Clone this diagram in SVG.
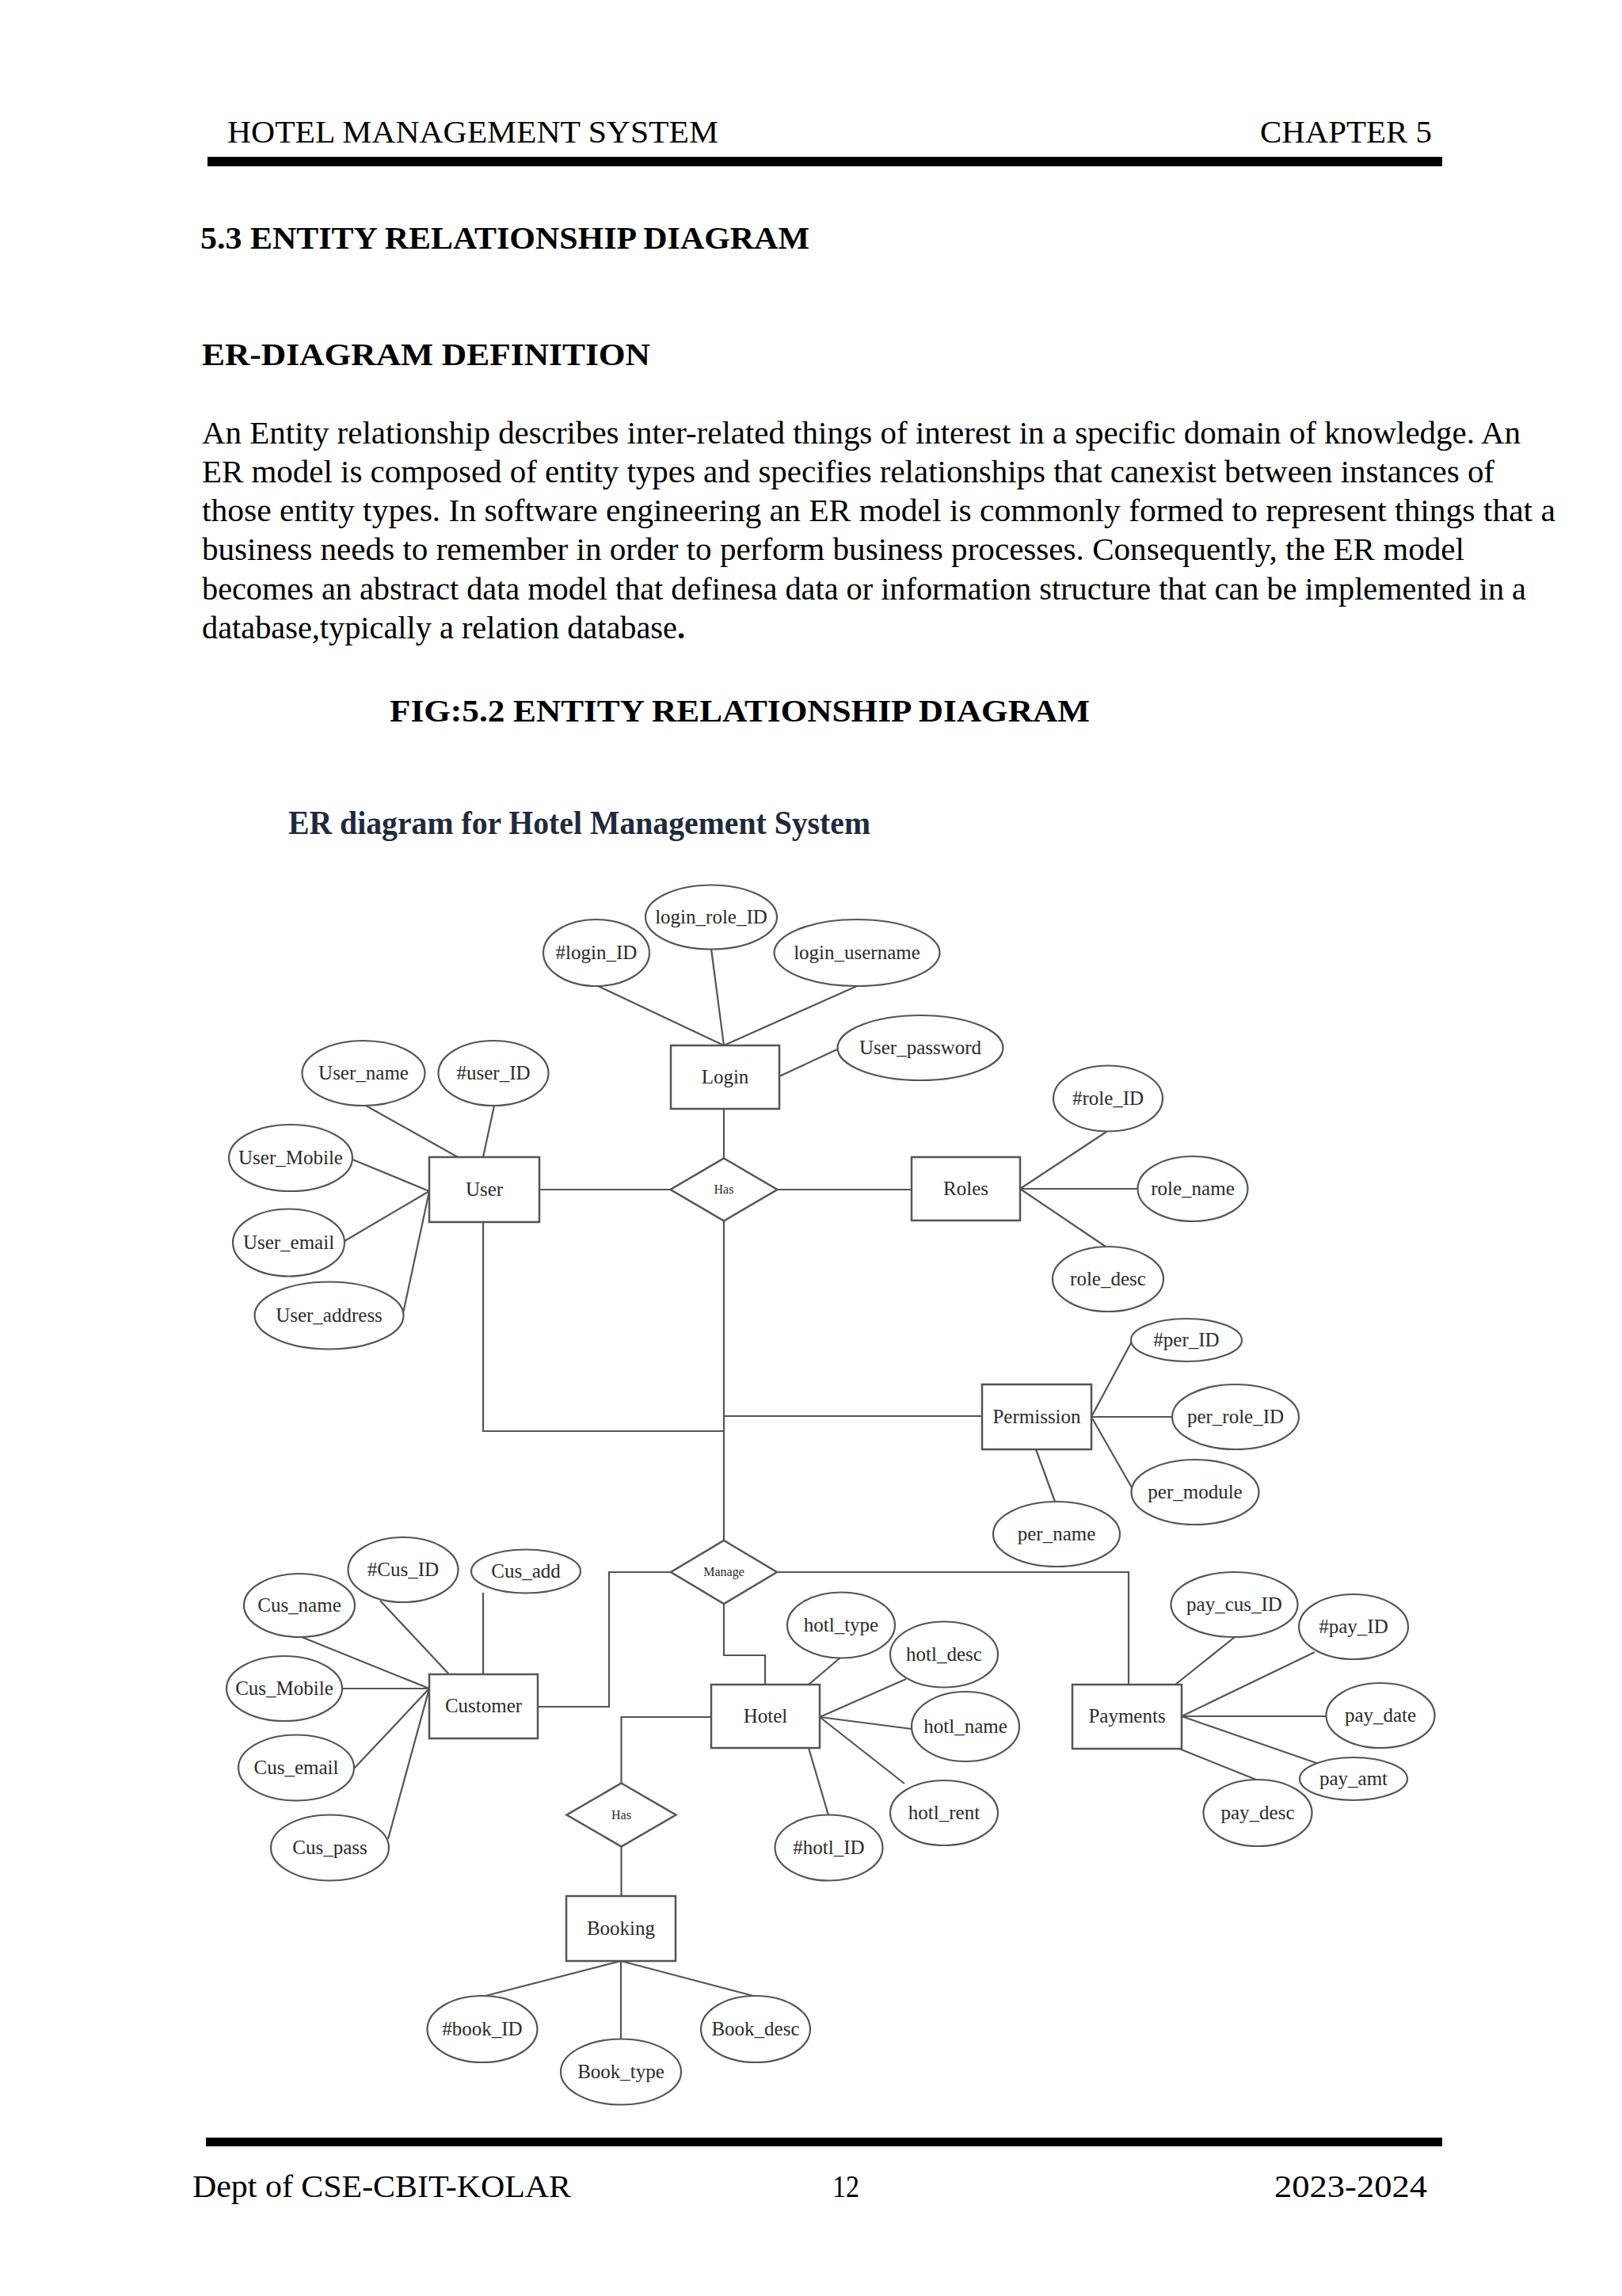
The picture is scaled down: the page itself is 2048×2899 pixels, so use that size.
<svg xmlns="http://www.w3.org/2000/svg" width="2048" height="2899" viewBox="0 0 2048 2899">
<style>
.page{font-family:"Liberation Serif","Times New Roman",serif;fill:#000}
.b{font-weight:bold}
.ent{fill:#fff;stroke:#555;stroke-width:2.5}
.attr{fill:#fff;stroke:#555;stroke-width:2.2}
.rel{fill:#fff;stroke:#555;stroke-width:2.5}
.lbl{font-family:"Liberation Serif","Times New Roman",serif;font-size:25px;fill:#2b2b2b;text-anchor:middle}
.sm{font-size:16px}
.conn line,.conn polyline{stroke:#555;stroke-width:2.2;fill:none}
</style>
<rect width="2048" height="2899" fill="#fff"/>
<g id="page-header" class="page">
<text x="287" y="180" font-size="41" textLength="620" lengthAdjust="spacingAndGlyphs">HOTEL MANAGEMENT SYSTEM</text>
<text x="1591" y="180" font-size="41" textLength="217" lengthAdjust="spacingAndGlyphs">CHAPTER 5</text>
<rect x="262" y="198" width="1559" height="12" fill="#000"/>
<text class="b" x="253" y="314" font-size="39" textLength="769" lengthAdjust="spacingAndGlyphs">5.3 ENTITY RELATIONSHIP DIAGRAM</text>
<text class="b" x="255" y="461" font-size="39" textLength="566" lengthAdjust="spacingAndGlyphs">ER-DIAGRAM DEFINITION</text>
<text x="255" y="560" font-size="40" textLength="1665" lengthAdjust="spacingAndGlyphs">An Entity relationship describes inter-related things of interest in a specific domain of knowledge. An</text>
<text x="255" y="609" font-size="40" textLength="1632" lengthAdjust="spacingAndGlyphs">ER model is composed of entity types and specifies relationships that canexist between instances of</text>
<text x="255" y="658" font-size="40" textLength="1709" lengthAdjust="spacingAndGlyphs">those entity types. In software engineering an ER model is commonly formed to represent things that a</text>
<text x="255" y="707" font-size="40" textLength="1594" lengthAdjust="spacingAndGlyphs">business needs to remember in order to perform business processes. Consequently, the ER model</text>
<text x="255" y="757" font-size="40" textLength="1672" lengthAdjust="spacingAndGlyphs">becomes an abstract data model that definesa data or information structure that can be implemented in a</text>
<text x="255" y="806" font-size="40" textLength="610" lengthAdjust="spacingAndGlyphs">database,typically a relation database<tspan class="b">.</tspan></text>
<text class="b" x="492" y="911" font-size="39" textLength="884" lengthAdjust="spacingAndGlyphs">FIG:5.2 ENTITY RELATIONSHIP DIAGRAM</text>
</g>
<text id="diagram-title" x="364" y="1053" font-family="Liberation Serif,Times New Roman,serif" font-weight="bold" font-size="43" fill="#1e2b3c" textLength="735" lengthAdjust="spacingAndGlyphs">ER diagram for Hotel Management System</text>
<g id="connectors" class="conn">
<line x1="755" y1="1245" x2="914" y2="1320"/>
<line x1="898" y1="1198" x2="914" y2="1320"/>
<line x1="1082" y1="1245" x2="914" y2="1320"/>
<line x1="984" y1="1359" x2="1057" y2="1325"/>
<line x1="914" y1="1400" x2="914" y2="1462.5"/>
<line x1="681" y1="1502" x2="846.5" y2="1502"/>
<line x1="981.5" y1="1502" x2="1151" y2="1502"/>
<line x1="462" y1="1396" x2="578" y2="1461"/>
<line x1="624" y1="1396" x2="610" y2="1461"/>
<line x1="445" y1="1464" x2="542" y2="1504"/>
<line x1="435" y1="1567" x2="542" y2="1504"/>
<line x1="509" y1="1658" x2="542" y2="1504"/>
<line x1="1288" y1="1501" x2="1397" y2="1429"/>
<line x1="1288" y1="1501" x2="1436.5" y2="1501"/>
<line x1="1288" y1="1501" x2="1396" y2="1574"/>
<polyline points="610,1543 610,1807 914,1807"/>
<line x1="914" y1="1541.5" x2="914" y2="1945"/>
<line x1="914" y1="1788" x2="1240" y2="1788"/>
<line x1="1378" y1="1789" x2="1430" y2="1692"/>
<line x1="1378" y1="1789" x2="1480" y2="1789"/>
<line x1="1378" y1="1789" x2="1430" y2="1880"/>
<line x1="1308" y1="1830" x2="1332" y2="1896"/>
<polyline points="847,1985 769,1985 769,2155 679,2155"/>
<polyline points="981,1985 1425,1985 1425,2127"/>
<polyline points="914,2025 914,2090 966,2090 966,2127"/>
<polyline points="898,2168 784.5,2168 784.5,2251.5"/>
<line x1="784.5" y1="2331.5" x2="784.5" y2="2394"/>
<line x1="784" y1="2476" x2="613" y2="2520"/>
<line x1="784" y1="2476" x2="784" y2="2574.5"/>
<line x1="784" y1="2476" x2="951" y2="2520"/>
<line x1="480" y1="2021" x2="567" y2="2114"/>
<line x1="610" y1="2011" x2="610" y2="2114"/>
<line x1="381" y1="2067" x2="542" y2="2132"/>
<line x1="432" y1="2132" x2="542" y2="2132"/>
<line x1="447" y1="2233" x2="542" y2="2132"/>
<line x1="490" y1="2322" x2="542" y2="2132"/>
<line x1="1061" y1="2093" x2="1021" y2="2127"/>
<line x1="1144" y1="2120" x2="1035" y2="2168"/>
<line x1="1151" y1="2183" x2="1035" y2="2168"/>
<line x1="1142" y1="2252" x2="1035" y2="2168"/>
<line x1="1046" y1="2292" x2="1021" y2="2207"/>
<line x1="1484" y1="2127" x2="1559" y2="2067"/>
<line x1="1492" y1="2167" x2="1660" y2="2086"/>
<line x1="1492" y1="2167" x2="1674.5" y2="2167"/>
<line x1="1492" y1="2167" x2="1662" y2="2226"/>
<line x1="1489" y1="2208" x2="1586" y2="2247"/>
</g>
<g id="entity-user"><rect class="ent" x="542" y="1461" width="139" height="82"/><text class="lbl" x="611.5" y="1510">User</text></g>
<g id="entity-login"><rect class="ent" x="847" y="1320" width="137" height="80"/><text class="lbl" x="915.5" y="1368">Login</text></g>
<g id="entity-roles"><rect class="ent" x="1151" y="1461" width="137" height="80"/><text class="lbl" x="1219.5" y="1509">Roles</text></g>
<g id="entity-permission"><rect class="ent" x="1240" y="1748" width="138" height="82"/><text class="lbl" x="1309" y="1797">Permission</text></g>
<g id="entity-customer"><rect class="ent" x="542" y="2114" width="137" height="81"/><text class="lbl" x="610.5" y="2162">Customer</text></g>
<g id="entity-hotel"><rect class="ent" x="898" y="2127" width="137" height="80"/><text class="lbl" x="966.5" y="2175">Hotel</text></g>
<g id="entity-payments"><rect class="ent" x="1354" y="2127" width="138" height="81"/><text class="lbl" x="1423" y="2175">Payments</text></g>
<g id="entity-booking"><rect class="ent" x="715" y="2394" width="138" height="82"/><text class="lbl" x="784" y="2443">Booking</text></g>
<g id="rel-has-user"><polygon class="rel" points="914,1462.5 981.5,1502 914,1541.5 846.5,1502"/><text class="lbl sm" x="914" y="1507">Has</text></g>
<g id="rel-manage"><polygon class="rel" points="914,1945 981,1985 914,2025 847,1985"/><text class="lbl sm" x="914" y="1990">Manage</text></g>
<g id="rel-has-booking"><polygon class="rel" points="784.5,2251.5 853.5,2291.5 784.5,2331.5 715.5,2291.5"/><text class="lbl sm" x="784.5" y="2297">Has</text></g>
<g id="attr-login-id"><ellipse class="attr" cx="753" cy="1203" rx="67" ry="42"/><text class="lbl" x="753" y="1211">#login_ID</text></g>
<g id="attr-login-role-id"><ellipse class="attr" cx="898" cy="1158" rx="83" ry="40.5"/><text class="lbl" x="898" y="1166">login_role_ID</text></g>
<g id="attr-login-username"><ellipse class="attr" cx="1082" cy="1203" rx="104.5" ry="42"/><text class="lbl" x="1082" y="1211">login_username</text></g>
<g id="attr-user-password"><ellipse class="attr" cx="1162" cy="1323" rx="104.5" ry="41"/><text class="lbl" x="1162" y="1331">User_password</text></g>
<g id="attr-user-name"><ellipse class="attr" cx="459" cy="1355" rx="77.5" ry="41"/><text class="lbl" x="459" y="1363">User_name</text></g>
<g id="attr-user-id"><ellipse class="attr" cx="623" cy="1355" rx="69.5" ry="41"/><text class="lbl" x="623" y="1363">#user_ID</text></g>
<g id="attr-user-mobile"><ellipse class="attr" cx="367" cy="1462" rx="78" ry="42"/><text class="lbl" x="367" y="1470">User_Mobile</text></g>
<g id="attr-user-email"><ellipse class="attr" cx="364.5" cy="1569" rx="70.5" ry="42.5"/><text class="lbl" x="364.5" y="1577">User_email</text></g>
<g id="attr-user-address"><ellipse class="attr" cx="415.5" cy="1661" rx="94" ry="42.5"/><text class="lbl" x="415.5" y="1669">User_address</text></g>
<g id="attr-role-id"><ellipse class="attr" cx="1399" cy="1387" rx="69" ry="41.5"/><text class="lbl" x="1399" y="1395">#role_ID</text></g>
<g id="attr-role-name"><ellipse class="attr" cx="1506" cy="1501" rx="69.5" ry="41"/><text class="lbl" x="1506" y="1509">role_name</text></g>
<g id="attr-role-desc"><ellipse class="attr" cx="1399" cy="1615" rx="70" ry="41"/><text class="lbl" x="1399" y="1623">role_desc</text></g>
<g id="attr-per-id"><ellipse class="attr" cx="1498" cy="1692" rx="70" ry="27"/><text class="lbl" x="1498" y="1700">#per_ID</text></g>
<g id="attr-per-role-id"><ellipse class="attr" cx="1560" cy="1789" rx="80" ry="41"/><text class="lbl" x="1560" y="1797">per_role_ID</text></g>
<g id="attr-per-module"><ellipse class="attr" cx="1509" cy="1884" rx="80.5" ry="41"/><text class="lbl" x="1509" y="1892">per_module</text></g>
<g id="attr-per-name"><ellipse class="attr" cx="1334" cy="1937" rx="80" ry="41"/><text class="lbl" x="1334" y="1945">per_name</text></g>
<g id="attr-cus-id"><ellipse class="attr" cx="509" cy="1982" rx="69.5" ry="41"/><text class="lbl" x="509" y="1990">#Cus_ID</text></g>
<g id="attr-cus-add"><ellipse class="attr" cx="664" cy="1984" rx="69" ry="27.5"/><text class="lbl" x="664" y="1992">Cus_add</text></g>
<g id="attr-cus-name"><ellipse class="attr" cx="378" cy="2027" rx="70" ry="40"/><text class="lbl" x="378" y="2035">Cus_name</text></g>
<g id="attr-cus-mobile"><ellipse class="attr" cx="359" cy="2132" rx="73" ry="41"/><text class="lbl" x="359" y="2140">Cus_Mobile</text></g>
<g id="attr-cus-email"><ellipse class="attr" cx="374" cy="2232" rx="73" ry="41.5"/><text class="lbl" x="374" y="2240">Cus_email</text></g>
<g id="attr-cus-pass"><ellipse class="attr" cx="416.5" cy="2333" rx="74.5" ry="41.5"/><text class="lbl" x="416.5" y="2341">Cus_pass</text></g>
<g id="attr-hotl-type"><ellipse class="attr" cx="1062" cy="2052" rx="68" ry="41.5"/><text class="lbl" x="1062" y="2060">hotl_type</text></g>
<g id="attr-hotl-desc"><ellipse class="attr" cx="1192" cy="2089" rx="68" ry="41.5"/><text class="lbl" x="1192" y="2097">hotl_desc</text></g>
<g id="attr-hotl-name"><ellipse class="attr" cx="1219" cy="2180" rx="68" ry="44"/><text class="lbl" x="1219" y="2188">hotl_name</text></g>
<g id="attr-hotl-rent"><ellipse class="attr" cx="1192" cy="2289" rx="68" ry="41"/><text class="lbl" x="1192" y="2297">hotl_rent</text></g>
<g id="attr-hotl-id"><ellipse class="attr" cx="1046.5" cy="2333" rx="68" ry="41.5"/><text class="lbl" x="1046.5" y="2341">#hotl_ID</text></g>
<g id="attr-pay-cus-id"><ellipse class="attr" cx="1558.5" cy="2026" rx="80" ry="41"/><text class="lbl" x="1558.5" y="2034">pay_cus_ID</text></g>
<g id="attr-pay-id"><ellipse class="attr" cx="1709" cy="2054" rx="69" ry="41"/><text class="lbl" x="1709" y="2062">#pay_ID</text></g>
<g id="attr-pay-date"><ellipse class="attr" cx="1743" cy="2166" rx="68.5" ry="41"/><text class="lbl" x="1743" y="2174">pay_date</text></g>
<g id="attr-pay-amt"><ellipse class="attr" cx="1709" cy="2246" rx="68" ry="27"/><text class="lbl" x="1709" y="2254">pay_amt</text></g>
<g id="attr-pay-desc"><ellipse class="attr" cx="1588" cy="2289" rx="68.5" ry="42"/><text class="lbl" x="1588" y="2297">pay_desc</text></g>
<g id="attr-book-id"><ellipse class="attr" cx="609" cy="2562" rx="69.5" ry="42"/><text class="lbl" x="609" y="2570">#book_ID</text></g>
<g id="attr-book-type"><ellipse class="attr" cx="784" cy="2616" rx="76" ry="41.5"/><text class="lbl" x="784" y="2624">Book_type</text></g>
<g id="attr-book-desc"><ellipse class="attr" cx="954" cy="2562" rx="69" ry="42"/><text class="lbl" x="954" y="2570">Book_desc</text></g>
<g id="page-footer" class="page">
<rect x="260" y="2699" width="1561" height="11" fill="#000"/>
<text x="243" y="2774" font-size="41" textLength="478" lengthAdjust="spacingAndGlyphs">Dept of CSE-CBIT-KOLAR</text>
<text x="1051" y="2774" font-size="41" textLength="34" lengthAdjust="spacingAndGlyphs">12</text>
<text x="1609" y="2774" font-size="41" textLength="193" lengthAdjust="spacingAndGlyphs">2023-2024</text>
</g>
</svg>
